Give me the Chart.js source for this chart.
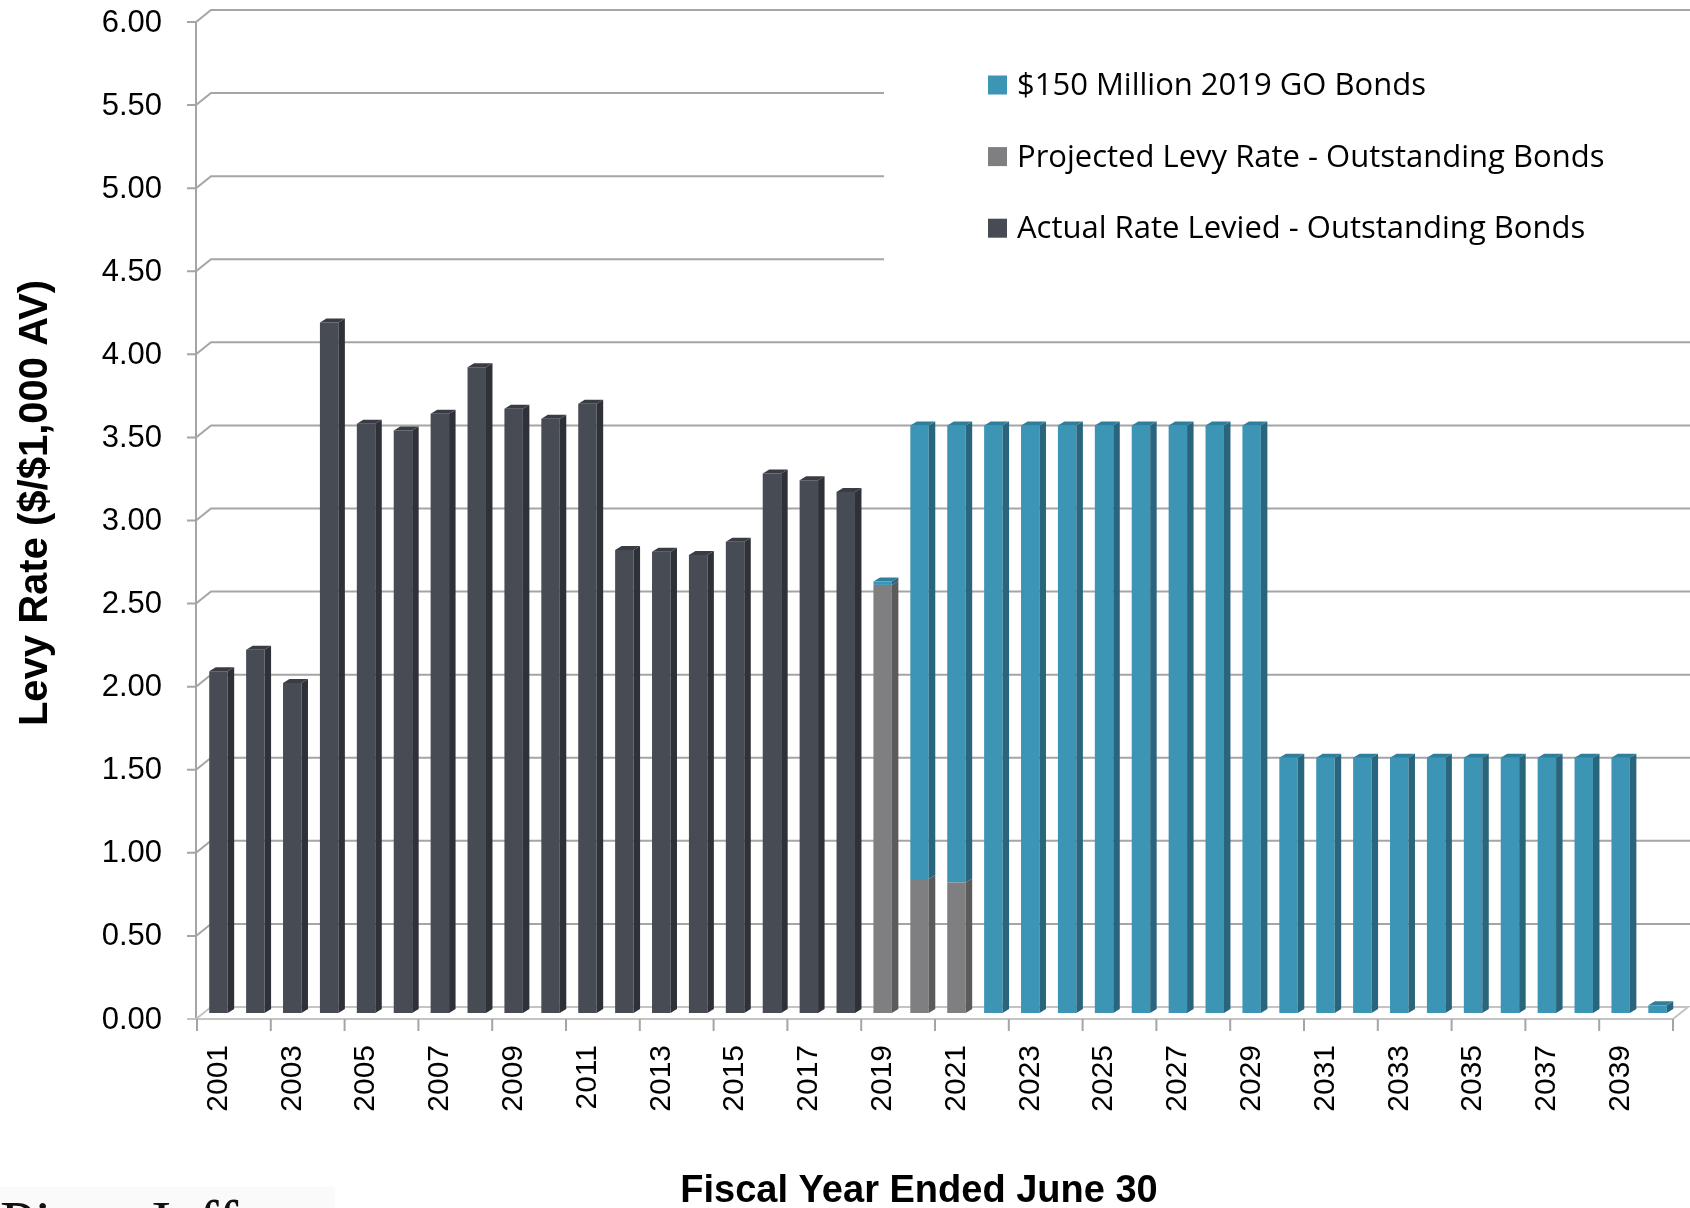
<!DOCTYPE html>
<html>
<head>
<meta charset="utf-8">
<title>Levy Rate</title>
<script src="https://cdn.jsdelivr.net/npm/chart.js@4.4.1/dist/chart.umd.min.js"></script>
<style>
html, body { margin: 0; padding: 0; background: #fff; }
#wrap { position: relative; width: 1690px; height: 1208px; overflow: hidden; }
</style>
</head>
<body>
<div id="wrap"><canvas id="chart" width="1690" height="1208"></canvas></div>
<script>
const years = ['2001', '2002', '2003', '2004', '2005', '2006', '2007', '2008', '2009', '2010',
	'2011', '2012', '2013', '2014', '2015', '2016', '2017', '2018', '2019', '2020',
	'2021', '2022', '2023', '2024', '2025', '2026', '2027', '2028', '2029', '2030',
	'2031', '2032', '2033', '2034', '2035', '2036', '2037', '2038', '2039', '2040'];

// $ per $1,000 AV, stacked bottom to top: actual, projected, new bonds
const actualRate = [2.02, 2.15, 1.95, 4.12, 3.51, 3.47, 3.57, 3.85, 3.60, 3.54,
	3.63, 2.75, 2.74, 2.72, 2.80, 3.21, 3.17, 3.10, null, null,
	null, null, null, null, null, null, null, null, null, null,
	null, null, null, null, null, null, null, null, null, null];
const projectedRate = [null, null, null, null, null, null, null, null, null, null,
	null, null, null, null, null, null, null, null, 2.54, 0.77,
	0.75, null, null, null, null, null, null, null, null, null,
	null, null, null, null, null, null, null, null, null, null];
const newBondRate = [null, null, null, null, null, null, null, null, null, null,
	null, null, null, null, null, null, null, null, 0.02, 2.73,
	2.75, 3.50, 3.50, 3.50, 3.50, 3.50, 3.50, 3.50, 3.50, 1.50,
	1.50, 1.50, 1.50, 1.50, 1.50, 1.50, 1.50, 1.50, 1.50, 0.01];

const seriesNames = ['Actual Rate Levied - Outstanding Bonds', 'Projected Levy Rate - Outstanding Bonds', '$150 Million 2019 GO Bonds'];
const frontColors = ['#474b54', '#7f7f81', '#3d95b6'];
const sideColors = ['#2e3137', '#5b5b5c', '#29657c'];
const topColors = ['#393c43', '#6c6c6d', '#2f7e9b'];

const wallLeft = 196;   // front edge of the side wall
const wallBack = 211;   // where the back wall starts
const wallRise = 12;    // vertical shift between front and back
const legendLeft = 884;

// side wall, back wall grid and floor
const wallPlugin = {
	id: 'wall',
	beforeDatasetsDraw(chart) {
		const ctx = chart.ctx;
		const y = chart.scales.y;
		const x = chart.scales.x;
		const right = chart.width;
		const y0 = y.getPixelForValue(0);
		ctx.save();
		ctx.lineWidth = 2;
		ctx.strokeStyle = '#a5a5a5';
		y.ticks.forEach(function (t) {
			if (t.value === 0) {
				return;
			}
			const py = y.getPixelForValue(t.value);
			const stop = (t.value > 4 && t.value < 6) ? legendLeft : right;
			ctx.beginPath();
			ctx.moveTo(wallLeft - 9, py + wallRise);
			ctx.lineTo(wallLeft, py + wallRise);
			ctx.lineTo(wallBack, py);
			ctx.lineTo(stop, py);
			ctx.stroke();
		});
		ctx.beginPath();
		ctx.moveTo(wallLeft, y.getPixelForValue(6) + wallRise);
		ctx.lineTo(wallLeft, y0 + wallRise);
		ctx.stroke();

		// floor
		const half = (x.getPixelForValue(1) - x.getPixelForValue(0)) / 2;
		const floorRight = x.getPixelForValue(years.length - 1) + half - 3;
		ctx.strokeStyle = '#c4c4c4';
		ctx.beginPath();
		ctx.moveTo(wallLeft - 9, y0 + wallRise);
		ctx.lineTo(floorRight, y0 + wallRise);
		ctx.lineTo(floorRight + 15, y0);
		ctx.lineTo(wallBack, y0);
		ctx.lineTo(wallLeft, y0 + wallRise);
		ctx.stroke();

		// category ticks, one every two years
		ctx.strokeStyle = '#a5a5a5';
		for (let i = 0; i <= years.length; i += 2) {
			const px = i < years.length ? x.getPixelForValue(i) - half - 3 : floorRight;
			ctx.beginPath();
			ctx.moveTo(px, y0 + wallRise);
			ctx.lineTo(px, y0 + wallRise + 12);
			ctx.stroke();
		}
		ctx.restore();
	}
};

// side and top faces so the columns look like boxes
const depthPlugin = {
	id: 'depth',
	afterDatasetsDraw(chart) {
		const ctx = chart.ctx;
		const dx = 6.5;
		const dz = 4;
		const sink = 6;
		ctx.save();
		for (let i = 0; i < years.length; i++) {
			let last = null;
			let first = true;
			chart.data.datasets.forEach(function (ds, di) {
				const v = ds.data[i];
				if (!v) {
					return;
				}
				const bar = chart.getDatasetMeta(di).data[i];
				const p = bar.getProps(['x', 'y', 'base', 'width'], true);
				const l = p.x - p.width / 2;
				const r = p.x + p.width / 2;
				let base = p.base;
				if (first) {
					ctx.fillStyle = frontColors[di];
					ctx.fillRect(l, base, p.width, sink);
					base += sink;
					first = false;
				}
				ctx.fillStyle = sideColors[di];
				ctx.beginPath();
				ctx.moveTo(r, p.y);
				ctx.lineTo(r + dx, p.y - dz);
				ctx.lineTo(r + dx, base - dz);
				ctx.lineTo(r, base);
				ctx.closePath();
				ctx.fill();
				last = { l: l, r: r, y: p.y, di: di };
			});
			if (last) {
				ctx.fillStyle = topColors[last.di];
				ctx.beginPath();
				ctx.moveTo(last.l, last.y);
				ctx.lineTo(last.l + dx, last.y - dz);
				ctx.lineTo(last.r + dx, last.y - dz);
				ctx.lineTo(last.r, last.y);
				ctx.closePath();
				ctx.fill();
			}
		}
		ctx.restore();
	}
};

// legend, axis titles and the footer mark
const textPlugin = {
	id: 'texts',
	afterDraw(chart) {
		const ctx = chart.ctx;
		ctx.save();
		ctx.textAlign = 'left';
		ctx.textBaseline = 'alphabetic';
		ctx.font = '31px "Open Sans", sans-serif';
		const rows = chart.data.datasets.slice().reverse();
		rows.forEach(function (ds, k) {
			const cy = 85 + k * 71.6;
			ctx.fillStyle = ds.backgroundColor;
			ctx.fillRect(988, cy - 9.5, 19, 19);
			ctx.fillStyle = '#000';
			ctx.fillText(ds.label, 1017, cy + 10);
		});

		ctx.fillStyle = '#000';
		ctx.textAlign = 'center';
		ctx.font = 'bold 38px "Liberation Sans", Arial, sans-serif';
		ctx.fillText('Fiscal Year Ended June 30', 919, 1202);

		ctx.save();
		ctx.translate(36, 503);
		ctx.rotate(-Math.PI / 2);
		ctx.textBaseline = 'middle';
		ctx.font = 'bold 40px "Liberation Sans", Arial, sans-serif';
		ctx.fillText('Levy Rate ($/$1,000 AV)', 0, 0);
		ctx.restore();

		ctx.fillStyle = '#fafafa';
		ctx.fillRect(0, 1187, 335, 21);
		ctx.fillStyle = '#111';
		ctx.textAlign = 'left';
		ctx.font = '62px "Liberation Serif", "Times New Roman", serif';
		ctx.fillText('Piper Jaffray', 0, 1243);
		ctx.restore();
	}
};

Chart.defaults.font.family = '"Liberation Sans", Arial, sans-serif';
Chart.defaults.color = '#000';

const ctx = document.getElementById('chart').getContext('2d');
new Chart(ctx, {
	type: 'bar',
	data: {
		labels: years,
		datasets: [
			{ label: seriesNames[0], data: actualRate, backgroundColor: frontColors[0] },
			{ label: seriesNames[1], data: projectedRate, backgroundColor: frontColors[1] },
			{ label: seriesNames[2], data: newBondRate, backgroundColor: frontColors[2] }
		]
	},
	options: {
		responsive: false,
		animation: false,
		devicePixelRatio: 1,
		layout: { padding: { top: 10, right: 14, bottom: 0, left: 0 } },
		datasets: {
			bar: { categoryPercentage: 1, barPercentage: 0.5, borderWidth: 0 }
		},
		plugins: {
			legend: { display: false },
			tooltip: { enabled: false }
		},
		scales: {
			x: {
				stacked: true,
				grid: { display: false, drawTicks: false },
				border: { display: false },
				ticks: {
					autoSkip: false,
					minRotation: 90,
					maxRotation: 90,
					padding: 38,
					font: { size: 30 },
					callback: function (value, index) {
						return index % 2 === 0 ? years[index] : '';
					}
				},
				afterFit: function (scale) {
					scale.height = 201;
					scale.paddingLeft = 0;
					scale.paddingRight = 0;
				}
			},
			y: {
				stacked: true,
				min: 0,
				max: 6,
				grid: { display: false, drawTicks: false },
				border: { display: false },
				ticks: {
					stepSize: 0.5,
					padding: 38,
					labelOffset: 13,
					font: { size: 31 },
					callback: function (value) {
						return value.toFixed(2);
					}
				},
				afterFit: function (scale) {
					scale.width = 200;
					scale.paddingTop = 0;
					scale.paddingBottom = 0;
				}
			}
		}
	},
	plugins: [wallPlugin, depthPlugin, textPlugin]
});
</script>
</body>
</html>
